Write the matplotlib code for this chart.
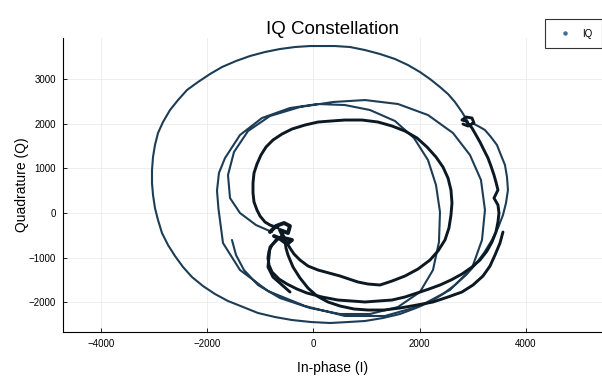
import matplotlib
matplotlib.use("Agg")
import matplotlib.pyplot as plt
from matplotlib.lines import Line2D

plt.rcParams['font.family'] = ['Liberation Sans', 'DejaVu Sans']

# outer loop (navy)
outer_i = [2909, 2796, 2664, 2533, 2382, 2194, 2005, 1779, 1535, 1252,
           970, 687, 405, 160, -66, -348, -631, -913, -1196, -1459,
           -1723, -1949, -2175, -2382, -2551, -2702, -2834, -2928, -2985, -3022,
           -3041, -3041, -3022, -2985, -2928, -2853, -2740, -2608, -2457, -2288,
           -2081, -1855, -1610, -1327, -1045, -725, -405, -47, 311, 650,
           970, 1308, 1629, 1930, 2194, 2438, 2664, 2872, 3041, 3210,
           3361, 3474, 3568, 3625, 3662, 3644, 3606, 3530, 3455, 3342,
           3229, 3098, 2985]
outer_q = [2040, 2264, 2489, 2668, 2825, 3004, 3161, 3318, 3453, 3565,
           3654, 3722, 3744, 3744, 3744, 3722, 3677, 3610, 3520, 3408,
           3273, 3116, 2937, 2758, 2533, 2309, 2040, 1794, 1525, 1256,
           964, 673, 404, 112, -157, -448, -717, -964, -1211, -1435,
           -1637, -1816, -1973, -2107, -2242, -2332, -2399, -2444, -2466, -2444,
           -2421, -2354, -2264, -2130, -1995, -1816, -1614, -1390, -1166, -897,
           -605, -336, -45, 224, 516, 807, 1076, 1300, 1525, 1704,
           1861, 1951, 2018]

# start stub + two middle loops ending in the cluster (navy)
mid_i = [-1535, -1459, -1309, -1045, -631, -66, 499, 1064, 1591, 2005, 2250, 2363, 2382, 2307,
         2156, 1892, 1535, 1064, 593, 85, -443, -970, -1384, -1666, -1780, -1817, -1790, -1704,
         -1384, -857, -160, 593, 1346, 2005, 2570, 2985, 3173, 3229, 3154, 2947, 2627, 2156,
         1591, 970, 367, -254, -819, -1233, -1497, -1610, -1572, -1384, -1083, -781]
mid_q = [-605, -942, -1278, -1614, -1906, -2130, -2264, -2264, -2107, -1771, -1278, -650, 22, 628,
         1188, 1682, 2063, 2309, 2421, 2444, 2354, 2130, 1749, 1233, 900, 500, 100, -673,
         -1278, -1749, -2085, -2309, -2309, -2085, -1726, -1233, -605, 67, 740, 1300, 1794, 2197,
         2444, 2533, 2489, 2377, 2175, 1838, 1368, 852, 336, 0, -269, -426]

# inner loop from the cluster and back (dark)
inner_i = [-668, -819, -913, -1007, -1064, -1120, -1139, -1139, -1120, -1064,
           -989, -894, -763, -593, -405, -160, 85, 330, 593, 913,
           1215, 1478, 1723, 1949, 2137, 2307, 2438, 2533, 2589, 2608,
           2589, 2551, 2476, 2344, 2194, 1968, 1723, 1478, 1252, 1026,
           838, 669, 499, 292, 85, -104, -254, -367, -443, -555]
inner_q = [-336, -269, -202, -67, 67, 247, 448, 673, 897, 1099,
           1300, 1480, 1637, 1771, 1883, 1973, 2040, 2063, 2085, 2085,
           2040, 1951, 1838, 1682, 1480, 1256, 1031, 785, 516, 224,
           -45, -336, -605, -852, -1054, -1256, -1412, -1525, -1614, -1592,
           -1547, -1480, -1412, -1345, -1278, -1188, -1054, -919, -785, -561]

# cluster -> lower arc -> wiggly right side -> knot (dark)
wig_i = [-593, -706, -781, -838, -857, -838, -781, -650, -499, -311,
         -122, 160, 461, 725, 970, 1215, 1478, 1723, 1949, 2175,
         2382, 2589, 2796, 2985, 3135, 3267, 3361, 3436, 3474, 3493,
         3474, 3399, 3474, 3436, 3399, 3342, 3286, 3210, 3135, 3060,
         2985, 2872, 2796, 2872, 2985, 3022, 2909, 2815]
wig_q = [-516, -605, -717, -852, -1009, -1166, -1323, -1480, -1592, -1704,
         -1794, -1883, -1951, -1973, -1995, -1973, -1951, -1883, -1794, -1704,
         -1614, -1502, -1368, -1211, -1054, -852, -650, -426, -202, 0,
         179, 336, 516, 695, 852, 1054, 1233, 1412, 1592, 1749,
         1906, 2063, 2085, 2152, 2130, 2018, 1951, 1995]

# cluster -> lowest dark arc
low_i = [-537, -518, -480, -386, -254, -104, 66, 273, 499, 763, 1026, 1327,
         1629, 1949, 2250, 2533, 2796, 3004, 3192, 3324, 3418, 3512, 3568]
low_q = [-605, -785, -942, -1211, -1457, -1682, -1861, -1995, -2085, -2152, -2175, -2175,
         -2130, -2063, -1995, -1883, -1771, -1614, -1412, -1188, -942, -673, -426]

# knot and end stub
knot_i = [-819, -706, -555, -443, -480, -631, -555, -405, -499, -650, -744]
knot_q = [-426, -291, -224, -291, -448, -381, -561, -605, -695, -561, -516]
end_i = [-650, -819, -857, -763, -442]
end_q = [-561, -761, -1210, -1435, -1771]

navy = '#1d3d56'
dark = '#0c1822'

fig = plt.figure(figsize=(6.02, 3.76), dpi=100)
ax = fig.add_axes([63/602, 44.3/376, 1 - 63/602, (331.7 - 38)/376])

style = dict(solid_capstyle='round', solid_joinstyle='round')
ax.plot(outer_i, outer_q, color=navy, lw=1.5, **style)
ax.plot(mid_i, mid_q, color=navy, lw=1.5, **style)
ax.plot(inner_i, inner_q, color=dark, lw=2.1, **style)
ax.plot(wig_i, wig_q, color=dark, lw=2.1, **style)
ax.plot(low_i, low_q, color=dark, lw=2.1, **style)
ax.plot(knot_i, knot_q, color=dark, lw=2.8, **style)
ax.plot(end_i, end_q, color=dark, lw=2.1, **style)

ax.set_xlim(-4717, 5433)
ax.set_ylim(-2661, 3924)
ax.set_xticks([-4000, -2000, 0, 2000, 4000])
ax.set_yticks([-2000, -1000, 0, 1000, 2000, 3000])
ax.grid(True, color='#ebebeb', lw=0.6)
ax.set_axisbelow(True)
for s in ['top', 'right']:
    ax.spines[s].set_visible(False)
for s in ['left', 'bottom']:
    ax.spines[s].set_linewidth(0.8)
ax.tick_params(direction='in', length=3, width=0.6, labelsize=7, pad=5, colors='black')

ax.set_title('IQ Constellation', fontsize=13.5, pad=1)
ax.set_xlabel('In-phase (I)', fontsize=10, labelpad=9)
ax.set_ylabel('Quadrature (Q)', fontsize=10, labelpad=0)

h = Line2D([], [], ls='none', marker='o', ms=2.2, color='#3f6f95')
leg = fig.legend([h], ['IQ'], loc='upper right', bbox_to_anchor=(1.0, 1 - 19/376),
                 fontsize=7, frameon=True, fancybox=False, borderpad=1.0, borderaxespad=0,
                 handlelength=2.0, handletextpad=0.8)
leg.get_frame().set_edgecolor('black')
leg.get_frame().set_linewidth(0.8)

fig.savefig('out.png', dpi=100)
